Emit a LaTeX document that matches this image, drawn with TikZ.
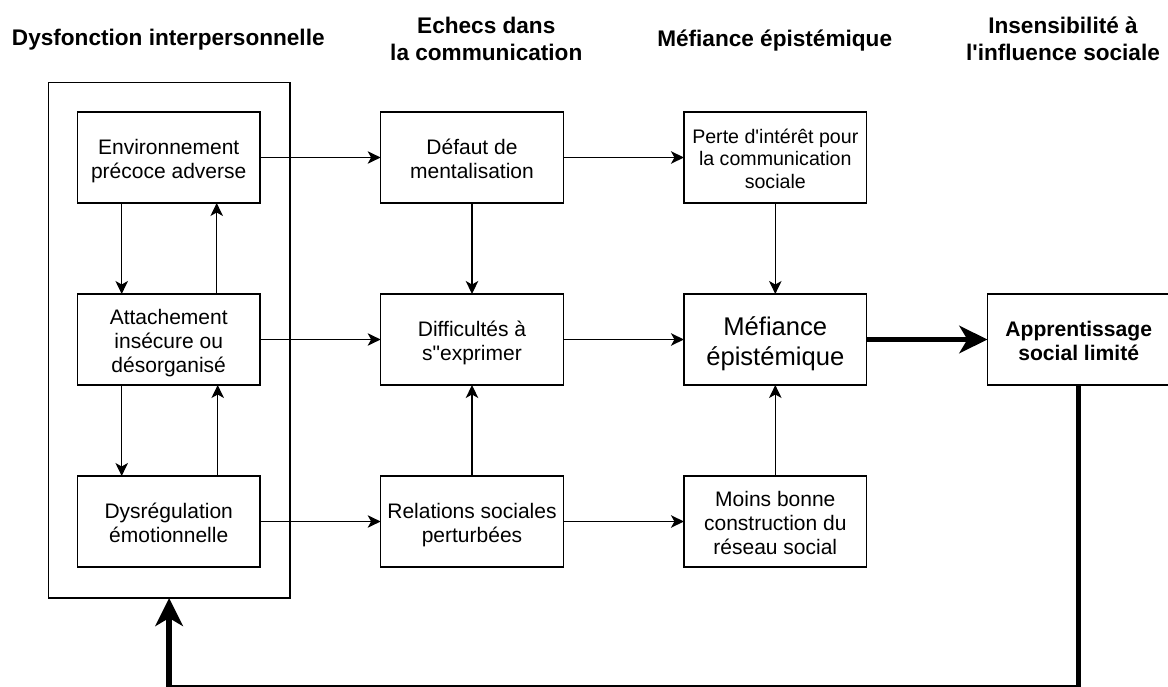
\documentclass[tikz,border=0pt]{standalone}
\usepackage{fontspec}
\setmainfont{Liberation Sans}[Ligatures={TeXOff,NoCommon}]
\usetikzlibrary{arrows.meta}
\newcommand\ls{\rule[-0.25em]{0pt}{1.36em}}
\begin{document}
\begin{tikzpicture}[x=1pt,y=-1pt,
  box/.style={draw=black, line width=1.2pt, minimum width=182.7pt, minimum height=91pt,
    inner sep=0pt, outer sep=0pt, align=center,
    font={\fontsize{21}{24}\selectfont\lineskiplimit=-100pt}},
  hdr/.style={align=center, inner sep=0pt,
    font={\bfseries\fontsize{22.6}{27}\selectfont\lineskiplimit=-100pt}},
  arr/.style={line width=1.2pt, -{Stealth[length=13pt,width=12.5pt,inset=3.5pt]}},
  bigarr/.style={line width=5.5pt, -{Stealth[length=28pt,width=27.5pt,inset=8pt]}},
]
\useasboundingbox (0,0) rectangle (1168,687);
% headers
\node[hdr] (h1) at (168.3,35.4) {\ls Dysfonction interpersonnelle};
\node[hdr] (h2) at (486.3,36.9) {\ls Echecs dans\\\ls la communication};
\node[hdr] (h3) at (774.7,36.4) {\ls Méfiance épistémique};
\node[hdr] (h4) at (1063,36.8) {\ls Insensibilité à\\\ls l'influence sociale};
% container
\node[draw=black, line width=1.2pt, minimum width=241.7pt, minimum height=515.7pt,
  inner sep=0pt, outer sep=0pt] (outer) at (169.15,340.15) {};
% boxes
\node[box] (env) at (168.7,157.5) {\ls Environnement\\\ls précoce adverse};
\node[box] (att) at (168.7,339.5) {\ls Attachement\\\ls insécure ou\\\ls désorganisé};
\node[box] (dys) at (168.7,521.5) {\ls Dysrégulation\\\ls émotionnelle};
\node[box] (def) at (472,157.5) {\ls Défaut de\\\ls mentalisation};
\node[box] (dif) at (472,339.5) {\ls Difficultés à\\\ls s"exprimer};
\node[box] (rel) at (472,521.5) {\ls Relations sociales\\\ls perturbées};
\node[box, font={\fontsize{19.6}{22.5}\selectfont\lineskiplimit=-100pt}] (per) at (775.3,157.5)
  {\ls Perte d'intérêt pour\\\ls la communication\\\ls sociale};
\node[box, font={\fontsize{25.6}{30}\selectfont\lineskiplimit=-100pt}] (mef) at (775.3,339.5)
  {\ls Méfiance\\\ls épistémique};
\node[box] (moi) at (775.3,521.5) {\ls Moins bonne\\\ls construction du\\\ls réseau social};
\node[box, font={\bfseries\fontsize{21.1}{23.5}\selectfont\lineskiplimit=-100pt}] (app) at (1078.7,339.5)
  {\ls Apprentissage\\\ls social limité};
% horizontal arrows
\draw[arr] (env) -- (def);
\draw[arr] (def) -- (per);
\draw[arr] (att) -- (dif);
\draw[arr] (dif) -- (mef);
\draw[arr] (dys) -- (rel);
\draw[arr] (rel) -- (moi);
% vertical arrows
\draw[arr] (def) -- (dif);
\draw[arr] (rel) -- (dif);
\draw[arr] (per) -- (mef);
\draw[arr] (moi) -- (mef);
\draw[arr] ([xshift=-47pt]env.south) -- ([xshift=-47pt]att.north);
\draw[arr] ([xshift=48pt]att.north) -- ([xshift=48pt]env.south);
\draw[arr] ([xshift=-47pt]att.south) -- ([xshift=-47pt]dys.north);
\draw[arr] ([xshift=49pt]dys.north) -- ([xshift=49pt]att.south);
% thick arrows
\draw[bigarr] (mef) -- (app);
\coordinate (bot) at (0,687.5);
\coordinate (fb) at (outer.south |- bot);
\draw[bigarr] (app.south) |- (fb) -- (outer.south);
\end{tikzpicture}
\end{document}
